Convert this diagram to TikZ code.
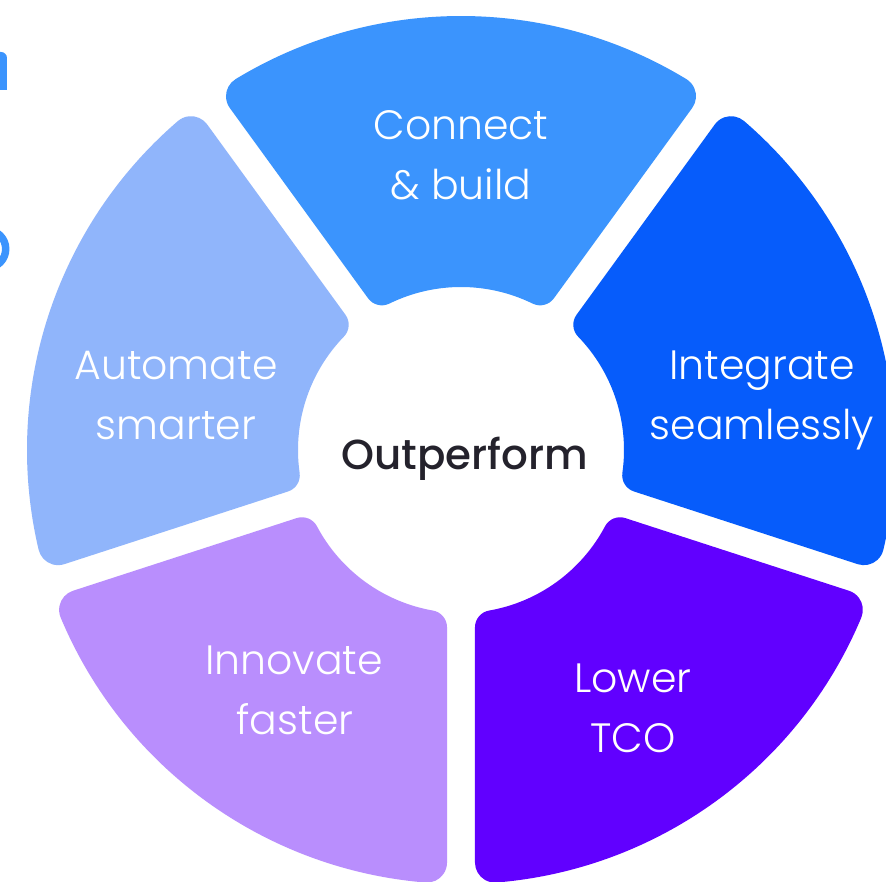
\documentclass[tikz,border=0pt]{standalone}
\usepackage{fontspec}
\setmainfont{Poppins}
\newfontfamily\segfont{Poppins Light}
\newfontfamily\ctrfont{Poppins Medium}
\usetikzlibrary{calc}
\definecolor{cConnect}{RGB}{59,148,253}
\definecolor{cIntegrate}{RGB}{6,92,251}
\definecolor{cTCO}{RGB}{97,0,255}
\definecolor{cInnovate}{RGB}{185,142,253}
\definecolor{cAutomate}{RGB}{144,181,251}
\definecolor{cCenter}{RGB}{36,34,44}
\tikzset{
  lbl/.style={text=white, anchor=base, inner sep=0pt, font=\segfont\fontsize{41}{50}\selectfont},
  ctr/.style={text=cCenter, anchor=base, inner sep=0pt, font=\ctrfont\fontsize{42}{48}\selectfont},
}
\begin{document}
\begin{tikzpicture}[x=1pt,y=1pt]
\useasboundingbox (-461,-432) rectangle (425,450);
\clip (-461,-432) rectangle (425,450);
\fill[white] (-461,-432) rectangle (425,450);
\pgfmathsetmacro\Rout{434}
\pgfmathsetmacro\Rin{163}
\pgfmathsetmacro\gp{14}
\pgfmathsetmacro\rO{20}
\pgfmathsetmacro\rI{17}
\pgfmathsetmacro\ao{asin((\gp+\rO)/(\Rout-\rO))}
\pgfmathsetmacro\ai{asin((\gp+\rI)/(\Rin+\rI))}
\foreach \th/\col in {90/cConnect, 18/cIntegrate, -54/cTCO, -126/cInnovate, 162/cAutomate} {
  \pgfmathsetmacro\ph{\th+36}
  \pgfmathsetmacro\pl{\th-36}
  \fill[\col] (\pl+\ao:\Rout)
     arc[start angle=\pl+\ao, end angle=\ph-\ao, radius=\Rout]
     arc[start angle=\ph-\ao, end angle=\ph+90, radius=\rO]
     -- ($(\ph-\ai:\Rin+\rI)+(\ph+90:\rI)$)
     arc[start angle=\ph+90, end angle=\ph-\ai+180, radius=\rI]
     arc[start angle=\ph-\ai, end angle=\pl+\ai, radius=\Rin]
     arc[start angle=\pl+\ai+180, end angle=\pl+270, radius=\rI]
     -- ($(\pl+\ao:\Rout-\rO)+(\pl-90:\rO)$)
     arc[start angle=\pl-90, end angle=\pl+\ao, radius=\rO]
     -- cycle;
}
% cropped heading letters at the left edge
\fill[cConnect] (-461,360) -- (-461,398) -- (-460,398)
   arc[start angle=90, end angle=0, radius=6] -- (-454,360) -- cycle;
\fill[cConnect, even odd rule] (-474.3,201) circle[radius=22.8] (-474.3,201) circle[radius=15.3];
% labels
\node[lbl] (connect1) at (0,310) {Connect};
\node[lbl] (connect2) at (0,250) {\& build};
\node[lbl] (integrate1) at (301,70) {Integrate};
\node[lbl] (integrate2) at (301,10) {seamlessly};
\node[lbl] (lower1) at (172,-243) {Lower};
\node[lbl] (lower2) at (172,-303) {TCO};
\node[lbl] (innovate1) at (-167,-225) {Innovate};
\node[lbl] (innovate2) at (-166,-285) {faster};
\node[lbl] (automate1) at (-285,70) {Automate};
\node[lbl] (automate2) at (-285,10) {smarter};
\node[ctr] (center) at (4,-20) {Outperform};
\end{tikzpicture}
\end{document}
